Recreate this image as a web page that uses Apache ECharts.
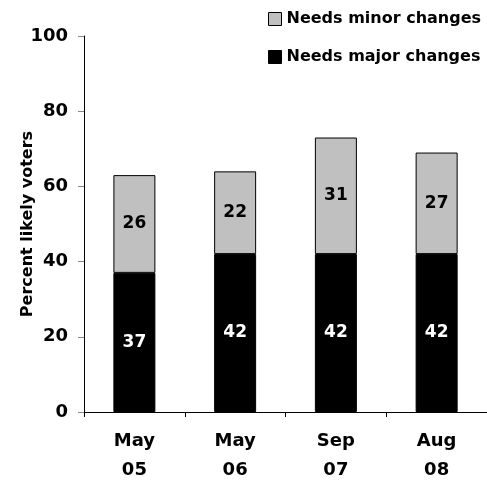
<!DOCTYPE html>
<html><head><meta charset="utf-8">
<script src="https://cdn.jsdelivr.net/npm/echarts@6/dist/echarts.min.js"></script>
<style>html,body{margin:0;padding:0;background:#fff}#c{width:487px;height:485px}</style>
</head><body><div id="c"></div>
<script>
const categories = ['May\n05', 'May\n06', 'Sep\n07', 'Aug\n08'];
const majorValues = [37, 42, 42, 42];
const minorValues = [26, 22, 31, 27];
const yTicks = [0, 20, 40, 60, 80, 100];

const font = '"DejaVu Sans", Verdana, sans-serif';
const chart = echarts.init(document.getElementById('c'));
chart.setOption({
  animation: false,
  legend: {
    orient: 'vertical',
    left: 263, top: 6,
    itemGap: 22,
    itemWidth: 13, itemHeight: 13,
    icon: 'rect',
    textStyle: { fontFamily: font, fontWeight: 'bold', fontSize: 16, color: '#000' },
    data: [
      { name: 'Needs minor changes', itemStyle: { color: '#c0c0c0', borderColor: '#000', borderWidth: 1 } },
      { name: 'Needs major changes', itemStyle: { color: '#000', borderColor: '#000', borderWidth: 1 } }
    ]
  },
  grid: { left: 84, right: -4, top: 36, bottom: 67, containLabel: false },
  xAxis: {
    type: 'category',
    data: categories,
    axisLine: { lineStyle: { color: '#000', width: 1 } },
    axisTick: { show: true, length: 5, lineStyle: { color: '#000' } },
    axisLabel: { fontFamily: font, fontWeight: 'bold', fontSize: 18, color: '#000', lineHeight: 29, margin: 15 }
  },
  yAxis: {
    type: 'value', min: 0, max: 100, interval: 20,
    name: 'Percent likely voters',
    nameLocation: 'middle', nameGap: 48, nameMoveOverlap: false,
    nameTextStyle: { fontFamily: font, fontWeight: 'bold', fontSize: 16, color: '#000' },
    axisLine: { show: true, lineStyle: { color: '#000', width: 1 } },
    axisTick: { show: true, length: 6, lineStyle: { color: '#888' } },
    splitLine: { show: false },
    axisLabel: { fontFamily: font, fontWeight: 'bold', fontSize: 18, color: '#000', margin: 16,
      formatter: v => yTicks.includes(v) ? String(v) : '' }
  },
  series: [
    {
      name: 'Needs major changes', type: 'bar', stack: 's', data: majorValues,
      barWidth: 42,
      itemStyle: { color: '#000', borderColor: '#000', borderWidth: 1 },
      label: { show: true, position: 'inside', color: '#fff', fontFamily: font, fontWeight: 'bold', fontSize: 17 }
    },
    {
      name: 'Needs minor changes', type: 'bar', stack: 's', data: minorValues,
      barWidth: 42,
      itemStyle: { color: '#c0c0c0', borderColor: '#000', borderWidth: 1 },
      label: { show: true, position: 'inside', color: '#000', fontFamily: font, fontWeight: 'bold', fontSize: 17 }
    }
  ]
});
</script></body></html>
